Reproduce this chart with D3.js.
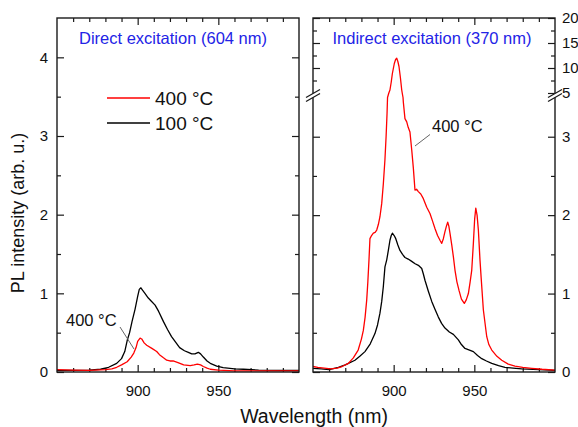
<!DOCTYPE html>
<html>
<head>
<meta charset="utf-8">
<script src="https://cdn.jsdelivr.net/npm/d3@7"></script>
<style>
  html, body { margin: 0; padding: 0; background: #fff; }
  svg { display: block; font-family: "Liberation Sans", Arial, sans-serif; }
</style>
</head>
<body>
<svg id="chart" width="578" height="427"></svg>
<script>
// ---------------- DATA ----------------
const xMajorTicks = [900, 950];
const xMinorTicks = [860, 870, 880, 890, 910, 920, 930, 940, 960, 970, 980, 990];
const leftYMajor = [0, 1, 2, 3, 4];
const leftYMinor = [0.5, 1.5, 2.5, 3.5];
const rightLowMajor = [0, 1, 2, 3];
const rightLowMinor = [0.5, 1.5, 2.5];
const rightHighMajor = [5, 10, 15, 20];
const rightHighMinor = [7.5, 12.5, 17.5];
const seriesNames = ["400 °C", "100 °C"];
const panelTitles = ["Direct excitation (604 nm)", "Indirect excitation (370 nm)"];

// Direct excitation (604 nm): [wavelength nm, PL]
const direct400 = [[850,0.03],[860,0.025],[870,0.02],[880,0.03],[884,0.04],[887,0.06],[890,0.09],[893.5,0.13],[896,0.19],[897.6,0.24],[899,0.31],[900,0.39],[901.5,0.43],[902.5,0.42],[904,0.37],[905.6,0.34],[908.8,0.30],[911.8,0.26],[913.5,0.22],[916,0.18],[918,0.15],[920,0.14],[922,0.14],[925,0.12],[928.5,0.09],[932.6,0.08],[935,0.09],[937,0.10],[939,0.09],[940.7,0.07],[943,0.05],[945,0.035],[950,0.025],[960,0.015],[980,0.015],[1000,0.015]];
const direct100 = [[850,0.02],[860,0.02],[870,0.025],[877,0.035],[882,0.06],[887,0.11],[890,0.17],[892,0.26],[893.5,0.4],[895,0.5],[896.5,0.64],[898.4,0.8],[900,0.96],[901,1.05],[902,1.07],[903,1.04],[904.5,1.0],[906.6,0.94],[908.5,0.9],[910.8,0.85],[913,0.77],[916,0.64],[918.5,0.54],[921,0.45],[923.5,0.38],[926,0.31],[929,0.27],[931.4,0.25],[933.5,0.23],[935.5,0.23],[937.6,0.25],[939,0.23],[940.7,0.19],[943,0.14],[945,0.11],[949,0.075],[953,0.055],[960,0.04],[965.5,0.035],[975,0.025],[990,0.02],[1000,0.02]];

// Indirect excitation (370 nm)
const indirect400 = [[850,0.07],[853,0.06],[857,0.05],[861,0.04],[865,0.05],[868,0.07],[871.9,0.11],[875,0.18],[878,0.28],[880,0.42],[881.2,0.53],[882.3,0.7],[883.3,0.92],[884,1.15],[884.7,1.43],[885.3,1.7],[886.3,1.74],[887.4,1.77],[888.5,1.78],[889.5,1.81],[890.5,1.88],[891.5,1.98],[892.6,2.15],[893.6,2.40],[894.6,2.71],[895.3,3.0],[895.9,3.3],[896.2,3.5],[897.0,5.0],[897.7,5.6],[898.5,7.2],[899.2,8.9],[900.4,10.9],[901.2,11.7],[901.9,11.95],[902.6,11.3],[903.3,10.3],[904.2,8.0],[905.0,5.6],[905.3,5.0],[905.8,3.5],[906,3.44],[907,3.23],[908.1,3.19],[909,3.12],[910.1,3.06],[911.2,2.83],[912.2,2.6],[913.2,2.32],[914.2,2.33],[915.3,2.30],[916.8,2.27],[918.4,2.21],[920.5,2.1],[922.5,2.02],[924,1.93],[925.6,1.83],[927.2,1.74],[928.7,1.68],[929.8,1.64],[930.8,1.70],[931.8,1.79],[932.7,1.86],[933.5,1.91],[934.2,1.86],[934.9,1.77],[936,1.62],[937,1.47],[938,1.30],[939.2,1.15],[940.5,1.04],[942,0.93],[943.8,0.875],[945,0.92],[946.3,1.0],[947.4,1.15],[948.4,1.30],[949.4,1.64],[950.2,1.95],[950.9,2.09],[951.7,2.0],[952.5,1.81],[953.5,1.43],[954.2,1.21],[955.6,0.79],[957.7,0.45],[959,0.35],[960.8,0.28],[964,0.2],[967,0.15],[971,0.1],[975.2,0.076],[980,0.06],[985.6,0.047],[992,0.035],[1000,0.025]];
const indirect100 = [[850,0.047],[855,0.04],[860,0.03],[865.7,0.06],[870,0.09],[876,0.15],[879,0.2],[882.2,0.26],[885.5,0.36],[888.4,0.49],[890,0.6],[891.5,0.75],[892.6,0.9],[893.6,1.09],[894.6,1.34],[895.7,1.43],[896.7,1.55],[897.7,1.68],[898.5,1.74],[899.2,1.77],[900.3,1.74],[901.3,1.70],[902.6,1.62],[903.9,1.55],[905.5,1.50],[907,1.46],[909,1.44],[911.2,1.41],[913.3,1.38],[915.3,1.36],[917.4,1.32],[918.4,1.25],[919.4,1.17],[921.5,1.03],[923.6,0.90],[925.6,0.80],[927.7,0.70],[929.7,0.62],[931.8,0.56],[934.5,0.51],[937,0.48],[940.1,0.41],[942,0.35],[944.2,0.30],[947,0.28],[949.4,0.26],[952,0.21],[954.6,0.17],[957.5,0.14],[960.8,0.11],[965,0.08],[969,0.06],[974,0.05],[979.4,0.04],[990,0.03],[1000,0.02]];

// ---------------- LAYOUT ----------------
const svg = d3.select("#chart");
const yTop = 18, yBot = 372;
const L = { x0: 57, x1: 299 };
const R = { x0: 313, x1: 555 };
const font = "'Liberation Sans', Arial, sans-serif";
const red = "#ff0000", blk = "#000000", frameCol = "#1a1a1a", blue = "#2323e6";

const xL = d3.scaleLinear().domain([850, 1000]).range([L.x0, L.x1]);
const xR = d3.scaleLinear().domain([850, 1000]).range([R.x0, R.x1]);
const yL = d3.scaleLinear().domain([0, 4.5]).range([yBot, yTop]);
const yLow = d3.scaleLinear().domain([0, 3.5]).range([yBot, 97.5]);
const yHigh = d3.scaleLinear().domain([5, 20]).range([93, yTop]);
const yBreak = v => (v <= 3.5 ? yLow(v) : yHigh(Math.max(v, 5)));

function styleAxis(g, fs) {
  g.select(".domain").remove();
  g.selectAll(".tick line").attr("stroke", frameCol).attr("stroke-width", 1.2);
  g.selectAll(".tick text").attr("font-family", font).attr("font-size", fs).attr("fill", "#111");
}
function addAxis(gen, tx, ty, fs) {
  const g = svg.append("g").attr("transform", `translate(${tx},${ty})`).call(gen);
  styleAxis(g, fs || 15);
  return g;
}
const none = () => "";

// ---------- Left panel axes ----------
addAxis(d3.axisBottom(xL).tickValues(xMajorTicks).tickSize(-7).tickPadding(13).tickFormat(d3.format("d")), 0, yBot);
addAxis(d3.axisBottom(xL).tickValues(xMinorTicks).tickSize(-4).tickFormat(none), 0, yBot);
addAxis(d3.axisTop(xL).tickValues(xMajorTicks).tickSize(-7).tickFormat(none), 0, yTop);
addAxis(d3.axisTop(xL).tickValues(xMinorTicks).tickSize(-4).tickFormat(none), 0, yTop);
addAxis(d3.axisLeft(yL).tickValues(leftYMajor).tickSize(-7).tickPadding(9).tickFormat(d3.format("d")), L.x0, 0);
addAxis(d3.axisLeft(yL).tickValues(leftYMinor).tickSize(-4).tickFormat(none), L.x0, 0);
addAxis(d3.axisRight(yL).tickValues(leftYMajor).tickSize(-7).tickFormat(none), L.x1, 0);
addAxis(d3.axisRight(yL).tickValues(leftYMinor).tickSize(-4).tickFormat(none), L.x1, 0);

// ---------- Right panel axes ----------
addAxis(d3.axisBottom(xR).tickValues(xMajorTicks).tickSize(-7).tickPadding(13).tickFormat(d3.format("d")), 0, yBot);
addAxis(d3.axisBottom(xR).tickValues(xMinorTicks).tickSize(-4).tickFormat(none), 0, yBot);
addAxis(d3.axisTop(xR).tickValues(xMajorTicks).tickSize(-7).tickFormat(none), 0, yTop);
addAxis(d3.axisTop(xR).tickValues(xMinorTicks).tickSize(-4).tickFormat(none), 0, yTop);
[[yLow, rightLowMajor, rightLowMinor], [yHigh, rightHighMajor, rightHighMinor]].forEach(([sc, maj, mnr]) => {
  addAxis(d3.axisLeft(sc).tickValues(maj).tickSize(-7).tickFormat(none), R.x0, 0);
  addAxis(d3.axisLeft(sc).tickValues(mnr).tickSize(-4).tickFormat(none), R.x0, 0);
  addAxis(d3.axisRight(sc).tickValues(maj).tickSize(-7).tickPadding(7).tickFormat(d3.format("d")), R.x1, 0);
  addAxis(d3.axisRight(sc).tickValues(mnr).tickSize(-4).tickFormat(none), R.x1, 0);
});

// ---------- Curves ----------
const lineL = d3.line().x(d => xL(d[0])).y(d => yL(d[1]));
const lineR = d3.line().defined(d => d[1] <= 3.5 || d[1] >= 5).x(d => xR(d[0])).y(d => yBreak(d[1]));
function drawCurve(gen, data, col) {
  svg.append("path").datum(data).attr("d", gen).attr("fill", "none")
    .attr("stroke", col).attr("stroke-width", 1.3).attr("stroke-linejoin", "round");
}
drawCurve(lineL, direct100, blk);
drawCurve(lineL, direct400, red);
drawCurve(lineR, indirect100, blk);
drawCurve(lineR, indirect400, red);

// ---------- Frames ----------
[L, R].forEach(p => {
  svg.append("rect").attr("x", p.x0).attr("y", yTop).attr("width", p.x1 - p.x0).attr("height", yBot - yTop)
    .attr("fill", "none").attr("stroke", frameCol).attr("stroke-width", 1.4);
});

// ---------- Axis breaks on right panel ----------
[R.x0, R.x1].forEach(xb => {
  const yc = 95.5;
  svg.append("polygon")
    .attr("points", `${xb-7},${yc+6} ${xb+7},${yc-2} ${xb+7},${yc-6} ${xb-7},${yc+2}`)
    .attr("fill", "#fff");
  [-1.9, 2.1].forEach(o => {
    svg.append("line").attr("x1", xb - 7).attr("y1", yc + 4 + o).attr("x2", xb + 7).attr("y2", yc - 4 + o)
      .attr("stroke", frameCol).attr("stroke-width", 1.2);
  });
});

// ---------- Titles ----------
svg.append("text").attr("x", 173).attr("y", 44).attr("text-anchor", "middle")
  .attr("font-family", font).attr("font-size", 16.5).attr("fill", blue).text(panelTitles[0]);
svg.append("text").attr("x", 432).attr("y", 44).attr("text-anchor", "middle")
  .attr("font-family", font).attr("font-size", 16.5).attr("fill", blue).text(panelTitles[1]);

// ---------- Legend ----------
[[red, 98], [blk, 123]].forEach(([c, yy], i) => {
  svg.append("line").attr("x1", 107).attr("x2", 150).attr("y1", yy).attr("y2", yy)
    .attr("stroke", c).attr("stroke-width", 1.4);
  svg.append("text").attr("x", 155).attr("y", yy + 7).attr("font-family", font)
    .attr("font-size", 19).attr("fill", "#111").text(seriesNames[i]);
});

// ---------- Annotations ----------
svg.append("text").attr("x", 66).attr("y", 326).attr("font-family", font)
  .attr("font-size", 16.5).attr("fill", "#111").text(seriesNames[0]);
svg.append("line").attr("x1", 120).attr("y1", 327).attr("x2", 134).attr("y2", 349)
  .attr("stroke", "#666").attr("stroke-width", 1);
svg.append("text").attr("x", 432).attr("y", 132).attr("font-family", font)
  .attr("font-size", 16.5).attr("fill", "#111").text(seriesNames[0]);
svg.append("line").attr("x1", 430).attr("y1", 134.5).attr("x2", 415).attr("y2", 146)
  .attr("stroke", "#666").attr("stroke-width", 1);

// ---------- Axis titles ----------
svg.append("text").attr("transform", "translate(24,213) rotate(-90)").attr("text-anchor", "middle")
  .attr("font-family", font).attr("font-size", 18).attr("fill", "#111").text("PL intensity (arb. u.)");
svg.append("text").attr("x", 314).attr("y", 423).attr("text-anchor", "middle")
  .attr("font-family", font).attr("font-size", 19.5).attr("fill", "#111").text("Wavelength (nm)");
</script>
</body>
</html>
